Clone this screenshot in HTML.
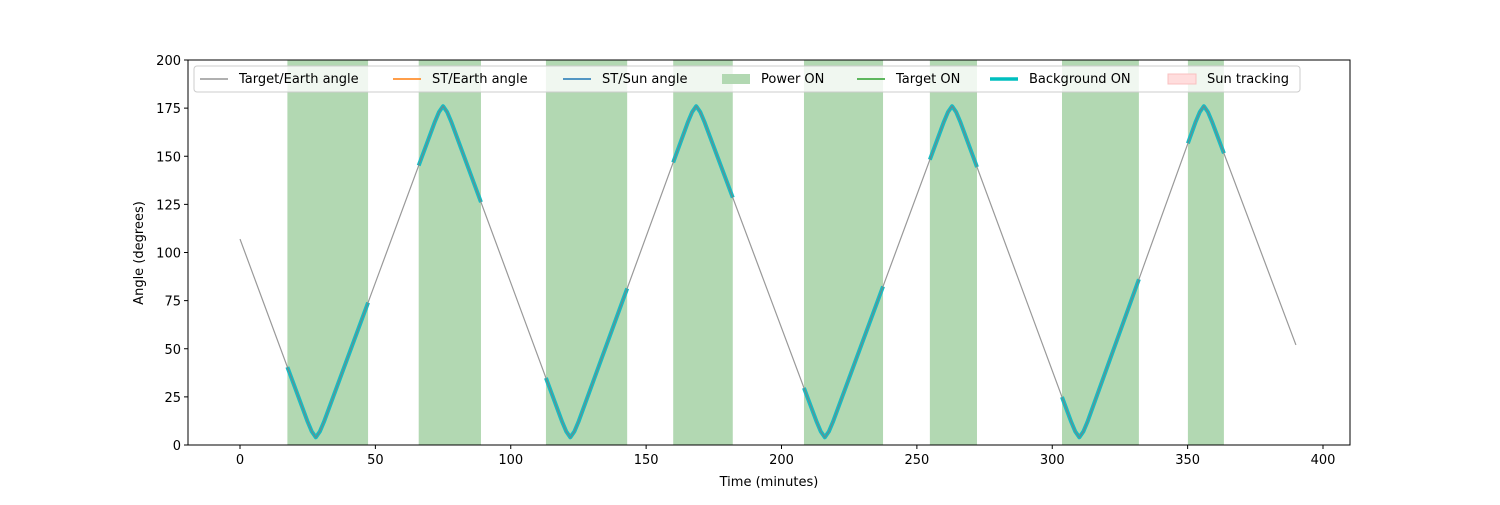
<!DOCTYPE html>
<html><head><meta charset="utf-8"><style>
body{margin:0;background:#fff;font-family:"Liberation Sans","DejaVu Sans",sans-serif}
svg text{font-family:"DejaVu Sans","Liberation Sans",sans-serif;font-size:13px;fill:#000}
</style></head><body>
<svg id="chart" width="1500" height="500" xmlns="http://www.w3.org/2000/svg">
<g id="spans"></g><g id="lines"></g><g id="axes"></g><g id="legend"></g>
</svg>
<script>
const times=[0,25,26.5,28,29.5,31,72,73.5,75,76.5,78,119,120.5,122,123.5,125,165.5,167,168.5,170,171.5,213,214.5,216,217.5,219,260,261.5,263,264.5,266,307,308.5,310,311.5,313,353,354.5,356,357.5,359,390];
const angles=[107,12,7,4,7,12,168,173,176,173,168,12,7,4,7,12,168,173,176,173,168,12,7,4,7,12,168,173,176,173,168,12,7,4,7,12,168,173,176,173,168,52];
const powerStart=[17.5,66,113,160,208.3,254.8,303.6,350.1];
const powerEnd=[47.3,89,143,182,237.5,272.2,332,363.4];
const xTicks=[0,50,100,150,200,250,300,350,400];
const yTicks=[0,25,50,75,100,125,150,175,200];
const L=188,R=1350,T=60,B=445;
const X=t=>240+t*2.7075, Y=v=>B-v*(B-T)/200;
const NS="http://www.w3.org/2000/svg";
function mk(tag,attrs,parent){const e=document.createElementNS(NS,tag);for(const k in attrs)e.setAttribute(k,attrs[k]);parent.appendChild(e);return e;}
const sp=document.getElementById('spans'),ln=document.getElementById('lines'),ax=document.getElementById('axes'),lg=document.getElementById('legend');
powerStart.forEach((s,i)=>{const r=mk('rect',{x:X(s),y:T,width:X(powerEnd[i])-X(s),height:B-T,fill:'#b2d8b2'},sp);

});
function interp(t){for(let i=1;i<times.length;i++){if(t<=times[i]){const f=(t-times[i-1])/(times[i]-times[i-1]);return angles[i-1]+f*(angles[i]-angles[i-1]);}}return angles[angles.length-1];}
powerStart.forEach((s,i)=>{const e=powerEnd[i];let pts=[[s,interp(s)]];times.forEach((t,j)=>{if(t>s&&t<e)pts.push([t,angles[j]]);});pts.push([e,interp(e)]);
const p=mk('polyline',{points:pts.map(q=>X(q[0])+','+Y(q[1])).join(' '),fill:'none',stroke:'#17bdc4',"stroke-width":4,"stroke-linejoin":'round'},ln);

});
const g=mk('polyline',{points:times.map((t,i)=>X(t)+','+Y(angles[i])).join(' '),fill:'none',stroke:'#808080',"stroke-width":1.2,opacity:0.8},ln);


mk('rect',{x:L,y:T,width:R-L,height:B-T,fill:'none',stroke:'#000',"stroke-width":1},ax);
xTicks.forEach(v=>{mk('line',{x1:X(v),x2:X(v),y1:B,y2:B+4,stroke:'#000'},ax);const t=mk('text',{x:X(v),y:B+19,"text-anchor":'middle'},ax);t.textContent=v;

});
yTicks.forEach(v=>{mk('line',{x1:L-4,x2:L,y1:Y(v),y2:Y(v),stroke:'#000'},ax);const t=mk('text',{x:L-7,y:Y(v)+5,"text-anchor":'end'},ax);t.textContent=v;

});
const xt=mk('text',{x:769,y:486,"text-anchor":'middle'},ax);xt.textContent='Time (minutes)';


const yt=mk('text',{x:143,y:253,"text-anchor":'middle',transform:'rotate(-90 143 253)'},ax);yt.textContent='Angle (degrees)';


mk('rect',{x:194,y:66,width:1106,height:26,rx:3,fill:'#fff',"fill-opacity":0.8,stroke:'#ccc'},lg);
const items=[['Target/Earth angle','line','#808080',1.2,200],['ST/Earth angle','line','#ff7f0e',1.5,393],['ST/Sun angle','line','#1f77b4',1.5,563],['Power ON','patch','#b2d8b2',0,722],['Target ON','line','#2ca02c',1.5,857],['Background ON','line','#00bfbf',3.5,990],['Sun tracking','patch','#fdd',0,1168]];
items.forEach(it=>{const grp=mk('g',{},lg);


if(it[1]=='line')mk('line',{x1:it[4],x2:it[4]+28,y1:79,y2:79,stroke:it[2],"stroke-width":it[3]},grp);
else mk('rect',{x:it[4],y:74,width:28,height:10,fill:it[2],stroke:it[2]=='#fdd'?'#f8c0c0':'none'},grp);
const t=mk('text',{x:it[4]+39,y:83},grp);t.textContent=it[0];});
</script>
</body></html>
